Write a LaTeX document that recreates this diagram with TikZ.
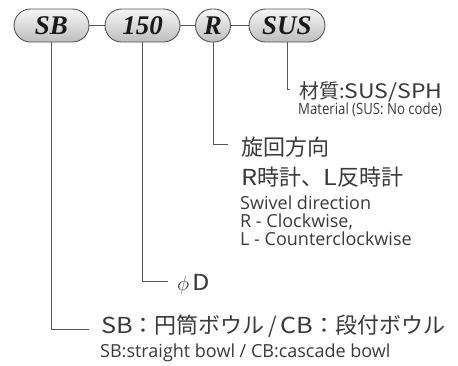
\documentclass[tikz,border=0pt]{standalone}
\usepackage{fontspec}
\setmainfont{Liberation Serif}
\newfontfamily\jp{Noto Sans CJK JP}
\newfontfamily\jpw[FakeStretch=1.15]{Noto Sans CJK JP}
\newfontfamily\en{Open Sans}
\newfontfamily\ennarrow[FakeStretch=0.85]{Open Sans}
\usetikzlibrary{shapes.misc}
\definecolor{linegray}{HTML}{555555}
\definecolor{txt}{HTML}{3A3A3A}
\definecolor{pilltop}{HTML}{F6F6F6}
\definecolor{pillbot}{HTML}{BEBEBE}
\tikzset{
  pill/.style={rounded rectangle, draw=linegray, line width=0.9pt, top color=pilltop, bottom color=pillbot,
    minimum height=33pt, inner sep=0pt, text=black!90,
    font=\fontsize{27}{29}\selectfont\bfseries\itshape},
  conn/.style={draw=linegray, line width=0.9pt},
  jptext/.style={anchor=base west, inner sep=0pt, text=txt, font=\jp\fontsize{22}{24}\selectfont},
  entext/.style={anchor=base west, inner sep=0pt, text=txt, font=\en\fontsize{18}{19}\selectfont},
  smalltext/.style={anchor=base west, inner sep=0pt, text=txt, font=\ennarrow\fontsize{15.5}{17}\selectfont},
}
\newcommand{\wl}[1]{{\jpw #1}}
\begin{document}
\begin{tikzpicture}[x=1pt,y=-1pt]
\useasboundingbox (0,0) rectangle (458,365);
% pills
\node[pill, minimum width=75pt] (sb) at (51.5,25.5) {SB};
\node[pill, minimum width=75pt] (n150) at (142.5,25.5) {150};
\node[pill, minimum width=35pt] (r) at (213,25.5) {R};
\node[pill, minimum width=76pt] (sus) at (287,25.5) {SUS};
\draw[conn] (sb.east) -- (n150.west);
\draw[conn] (n150.east) -- (r.west);
\draw[conn] (r.east) -- (sus.west);
% corners
\coordinate (csus) at (290,89);
\coordinate (cr) at (228,144);
\coordinate (c150) at (168,281);
\coordinate (csb) at (89,329);
\draw[conn] (sus.south) |- (csus);
\draw[conn] (r.south) |- (cr);
\draw[conn] (n150.south) |- (c150);
\draw[conn] (sb.south) |- (csb);
% texts
\node[jptext, font=\jp\fontsize{20}{22}\selectfont] (t1) at (299,98) {材質:\wl{SUS/SPH}};
\node[smalltext] (t1e) at (298,114) {Material (SUS: No code)};
\node[jptext] (t2) at (241,155.5) {旋回方向};
\node[jptext] (t2b) at (241,185) {\wl{R}時計、\wl{L}反時計};
\node[entext] (t2e) at (240,209) {Swivel direction};
\node[entext] (t2f) at (240,227) {R - Clockwise,};
\node[entext] (t2g) at (240,245) {L - Counterclockwise};
\node[jptext] (t3) at (177,290) {$\phi$\,\wl{D}};
\node[jptext] (t4) at (101,333) {\wl{SB}：円筒ボウル\,/\,\wl{CB}：段付ボウル};
\node[entext] (t4e) at (100,357) {SB:straight bowl / CB:cascade bowl};
\end{tikzpicture}
\end{document}
